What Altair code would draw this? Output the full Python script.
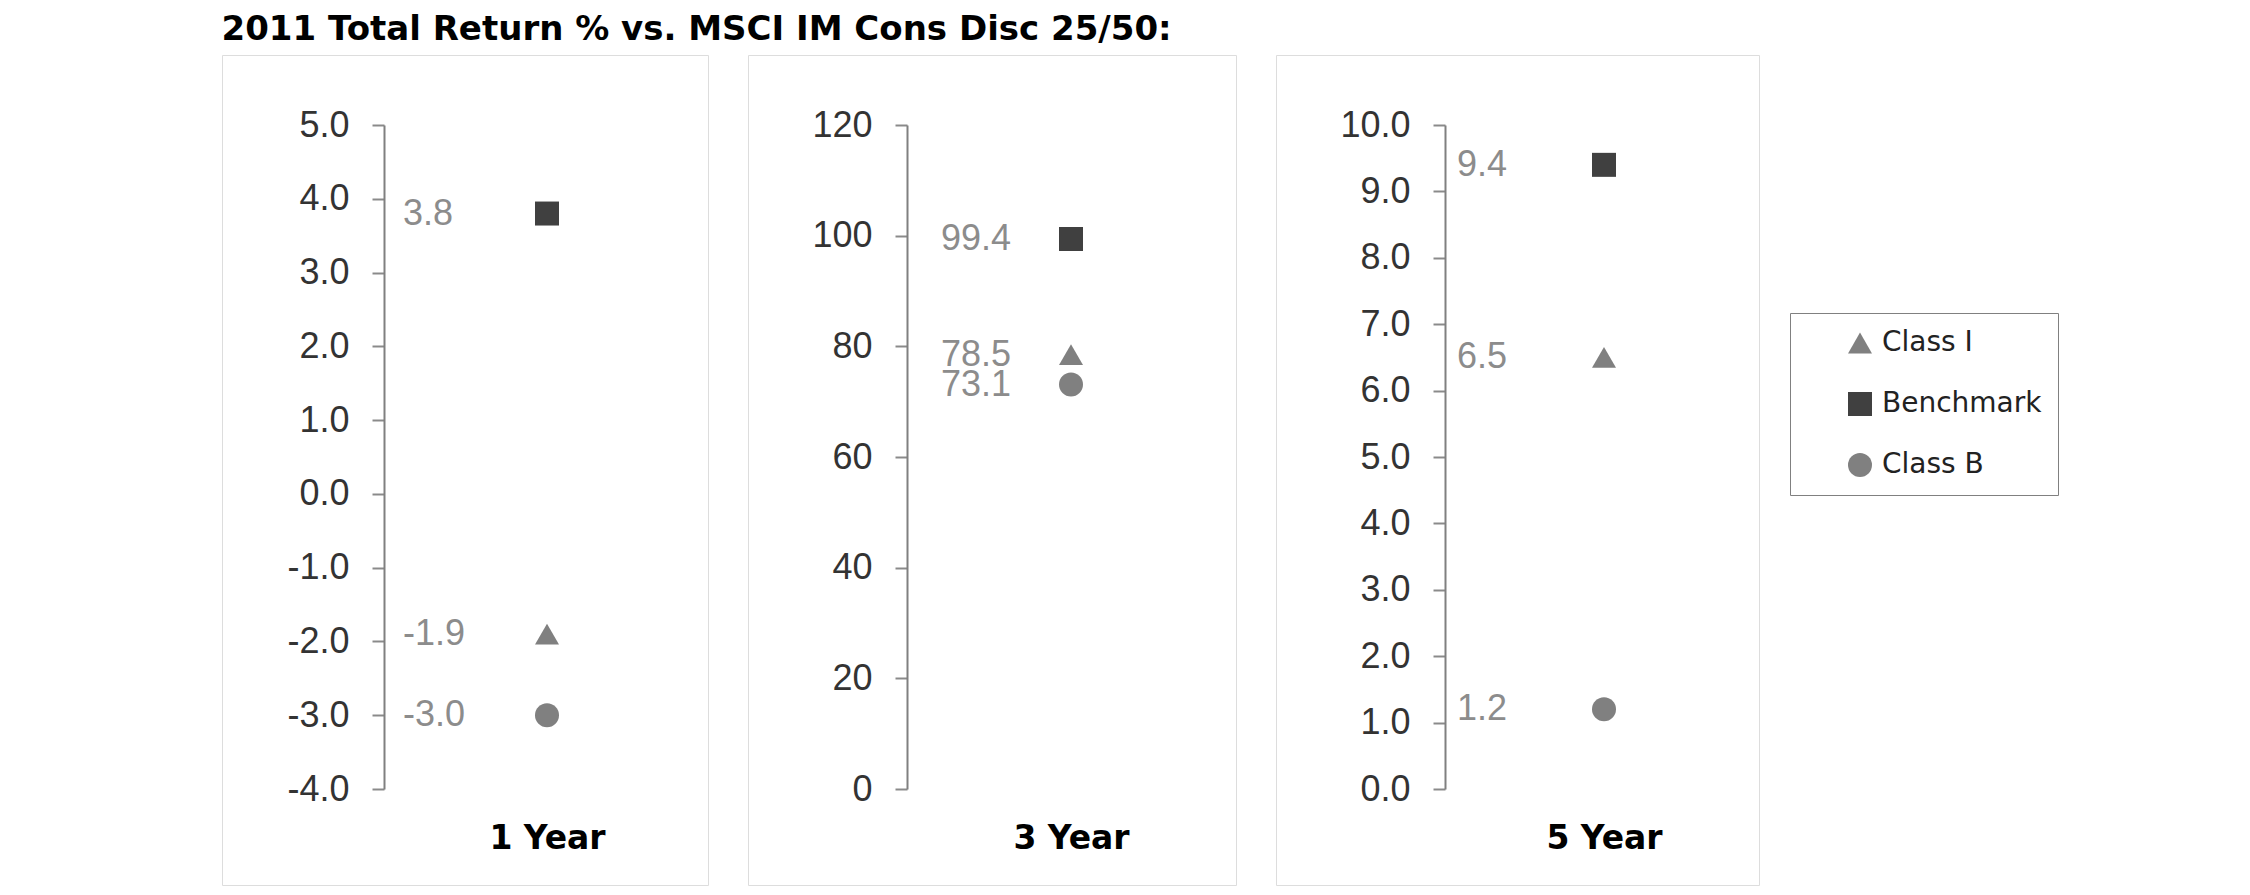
import altair as alt
import pandas as pd

# ---------------- data ----------------
title_text = "2011 Total Return % vs. MSCI IM Cons Disc 25/50:"
periods = ["1 Year", "3 Year", "5 Year"]
series = ["Class I", "Benchmark", "Class B"]
class_i = [-1.9, 78.5, 6.5]
benchmark = [3.8, 99.4, 9.4]
class_b = [-3.0, 73.1, 1.2]

ticks_1y = [-4.0, -3.0, -2.0, -1.0, 0.0, 1.0, 2.0, 3.0, 4.0, 5.0]
ticks_3y = [0, 20, 40, 60, 80, 100, 120]
ticks_5y = [0.0, 1.0, 2.0, 3.0, 4.0, 5.0, 6.0, 7.0, 8.0, 9.0, 10.0]
tick_lists = [ticks_1y, ticks_3y, ticks_5y]
tick_formats = [".1f", "d", ".1f"]

# ---------------- style / layout ----------------
shapes = ["triangle-up", "square", "circle"]
colors = ["#808080", "#404040", "#808080"]
sizes = [576, 576, 729]

panel_w = [486, 488, 483]
panel_h = 830
axis_x = [162, 159, 169]
marker_x = [325, 323, 328]
label_x = [181, 193, 181]
y_top, y_bot = 70, 734

arial = "Liberation Sans, Arial, sans-serif"
verdana = "DejaVu Sans, Verdana, sans-serif"
MINUS = "\u2212"


def panel(i):
    p = periods[i]
    df = pd.DataFrame({
        "period": [p] * 3,
        "series": series,
        "value": [class_i[i], benchmark[i], class_b[i]],
    })
    t = tick_lists[i]
    yscale = alt.Scale(domain=[min(t), max(t)], range=[y_bot, y_top], nice=False, zero=False)
    yenc = alt.Y(
        "value:Q",
        scale=yscale,
        axis=alt.Axis(
            values=t, format=tick_formats[i], title=None, grid=False,
            offset=-axis_x[i], tickSize=12, tickColor="#8a8a8a", tickWidth=2,
            domainColor="#808080", domainWidth=2,
            labelFont=arial, labelFontSize=36, labelColor="#333333",
            labelPadding=23, labelOverlap=False, labelFlush=False,
            labelExpr="replace(datum.label, '" + MINUS + "', '-')",
        ),
    )
    if i == 2:
        legend = alt.Legend(
            orient="none", legendX=514, legendY=258, title=None,
            padding=16, strokeColor="#808080", fillColor="white",
            labelFont=verdana, labelFontSize=28, labelColor="#222222",
            labelLimit=400,
            symbolSize=260, symbolOffset=40, labelOffset=8, rowPadding=33,
            symbolStrokeWidth=0, symbolOpacity=1,
        )
    else:
        legend = None
    pts = alt.Chart(df).mark_point(filled=True, opacity=1).encode(
        x=alt.X(
            "period:N",
            scale=alt.Scale(type="point", range=[marker_x[i], marker_x[i]]),
            axis=alt.Axis(
                title=None, ticks=False, domain=False, grid=False, tickSize=0,
                labelFont=verdana, labelFontWeight="bold", labelFontSize=33,
                labelColor="black", labelPadding=0, labelBaseline="alphabetic",
                labelAngle=0, offset=-37,
            ),
        ),
        y=yenc,
        shape=alt.Shape("series:N", scale=alt.Scale(domain=series, range=shapes), legend=legend),
        color=alt.Color("series:N", scale=alt.Scale(domain=series, range=colors), legend=legend),
        size=alt.Size("series:N", scale=alt.Scale(domain=series, range=sizes), legend=None),
    )
    txt = alt.Chart(df).transform_calculate(
        label="replace(format(datum.value, '.1f'), '" + MINUS + "', '-')"
    ).mark_text(
        align="left", baseline="middle", font=arial, fontSize=36, color="#8c8c8c"
    ).encode(
        x=alt.value(label_x[i]),
        y=yenc,
        text="label:N",
    )
    return alt.layer(pts, txt).properties(width=panel_w[i], height=panel_h)


chart = (
    alt.hconcat(*[panel(i) for i in range(3)], spacing=38)
    .resolve_scale(x="independent", y="independent", color="independent",
                   shape="independent", size="independent")
    .resolve_legend(color="independent", shape="independent")
    .properties(
        title=alt.TitleParams(
            text=title_text, anchor="start", font=verdana, fontWeight="bold",
            fontSize=34, color="black", offset=8,
        ),
        padding={"left": 213, "top": 4, "right": 20, "bottom": 5},
    )
    .configure_view(stroke="#7f7f7f", strokeWidth=3)
    .configure(background="white")
)

chart.save("out.html", embed_options={"renderer": "svg", "actions": False})
